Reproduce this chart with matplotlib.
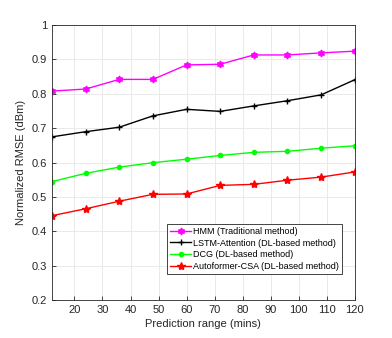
import matplotlib
matplotlib.use("Agg")
import matplotlib.pyplot as plt

x = [12, 24, 36, 48, 60, 72, 84, 96, 108, 120]
hmm = [0.808, 0.814, 0.842, 0.842, 0.884, 0.886, 0.913, 0.913, 0.919, 0.924]
lstm = [0.675, 0.690, 0.703, 0.736, 0.755, 0.749, 0.765, 0.780, 0.797, 0.841]
dcg = [0.545, 0.569, 0.587, 0.600, 0.610, 0.621, 0.630, 0.633, 0.642, 0.649]
auto = [0.446, 0.466, 0.488, 0.508, 0.509, 0.534, 0.537, 0.549, 0.558, 0.573]
labels = ["HMM (Traditional method)", "LSTM-Attention (DL-based method)",
          "DCG (DL-based method)", "Autoformer-CSA (DL-based method)"]
xticks = [20, 30, 40, 50, 60, 70, 80, 90, 100, 110, 120]
yticks = [0.2, 0.3, 0.4, 0.5, 0.6, 0.7, 0.8, 0.9, 1.0]

plt.rcParams['font.family'] = ['Liberation Sans', 'DejaVu Sans']
fig = plt.figure(figsize=(3.92, 3.38), dpi=100)
ax = fig.add_axes([0.1327, 0.1115, 0.905 - 0.1327, 0.926 - 0.1115])

ax.plot(x, hmm, color='#ff00ff', lw=1.0, marker=(6, 1, 0), ms=5, label=labels[0])
ax.plot(x, lstm, color='black', lw=1.0, marker='+', ms=5, mew=1.0, label=labels[1])
ax.plot(x, dcg, color='#00ff00', lw=1.0, marker='o', ms=3, label=labels[2])
ax.plot(x, auto, color='#ff0000', lw=1.0, marker='*', ms=6, label=labels[3])

ax.set_xlim(12, 120)
ax.set_ylim(0.2, 1.0)
ax.set_xticks(xticks)
ax.set_yticks(yticks)
ax.set_yticklabels(['0.2', '0.3', '0.4', '0.5', '0.6', '0.7', '0.8', '0.9', '1'])
ax.grid(True, color='#e6e6e6', lw=0.6)
ax.set_axisbelow(True)
ax.tick_params(direction='in', length=3, labelsize=8, colors='#262626', width=0.6)
for s in ax.spines.values():
    s.set_color('#262626')
    s.set_linewidth(0.6)
ax.set_xlabel('Prediction range (mins)', fontsize=8, color='#262626', labelpad=3)
ax.set_ylabel('Normalized RMSE (dBm)', fontsize=8, color='#262626', labelpad=4)

leg = ax.legend(loc='lower right', bbox_to_anchor=(0.958, 0.095), fontsize=6.5,
                frameon=True, fancybox=False, edgecolor='#262626', framealpha=1,
                handlelength=2.3, handletextpad=0.2, borderpad=0.35, labelspacing=0.3,
                borderaxespad=0)
leg.get_frame().set_linewidth(0.6)

fig.savefig('out.png', dpi=100)
